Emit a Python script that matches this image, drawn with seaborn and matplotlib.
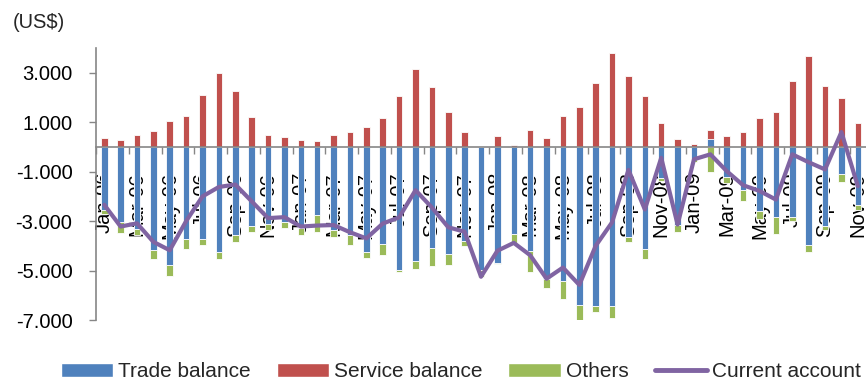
import numpy as np
import pandas as pd
import matplotlib
matplotlib.use("Agg")
import matplotlib.pyplot as plt
from matplotlib.patches import Patch
from matplotlib.lines import Line2D
from matplotlib.ticker import FuncFormatter, FixedLocator
import seaborn as sns

# Monthly balance of payments components (US$ millions), Jan-06 .. Nov-09
month_names = ["Jan", "Feb", "Mar", "Apr", "May", "Jun",
               "Jul", "Aug", "Sep", "Oct", "Nov", "Dec"]
years = ["06", "07", "08", "09"]
months = [f"{m}-{y}" for y in years for m in month_names][:47]

trade = [-2550, -3020, -3300, -4180, -4760, -3730, -3730, -4240,
         -3560, -3180, -3100, -3020, -3290, -2750, -3350, -3560,
         -4270, -3930, -4990, -4630, -4080, -4350, -3800, -4980,
         -4680, -3520, -4220, -5330, -5440, -6390, -6450, -6450,
         -3630, -4140, -1250, -3160, -500, 310, -1200, -1730,
         -2600, -2820, -2850, -3970, -3200, -1090, -2350]

service = [370, 270, 480, 640, 1060, 1250, 2110, 2990,
           2260, 1210, 480, 420, 270, 220, 480, 590,
           790, 1160, 2050, 3140, 2410, 1430, 590, 0,
           440, 70, 680, 370, 1250, 1620, 2570, 3780,
           2860, 2040, 950, 310, 100, 370, 460, 590,
           1160, 1430, 2680, 3670, 2460, 1990, 950]

others = [-150, -480, -270, -370, -480, -410, -240, -300,
          -270, -270, -260, -270, -270, -710, -290, -410,
          -240, -450, -50, -300, -730, -410, -200, -270,
          -50, -380, -840, -380, -730, -780, -240, -450,
          -200, -410, -140, -270, -100, -1000, -250, -450,
          -300, -720, -130, -300, -170, -340, -190]

current = [-2340, -3220, -3090, -3840, -4180, -3000, -2000, -1620,
           -1520, -2200, -2880, -2840, -3220, -3180, -3160, -3450,
           -3700, -3100, -2850, -1750, -2450, -3250, -3430, -5250,
           -4200, -3880, -4380, -5330, -4880, -5580, -4000, -3050,
           -930, -2530, -440, -3140, -500, -300, -980, -1550,
           -1780, -2130, -300, -620, -910, 600, -1590]

series_names = ["Trade balance", "Service balance", "Others", "Current account"]
colors = ["#4F81BD", "#C0504D", "#9BBB59", "#8064A2"]

sns.set_style("white")
plt.rcParams["font.family"] = ["Liberation Sans", "DejaVu Sans"]

df = pd.DataFrame({"month": months, "trade": trade, "service": service,
                   "others": others, "current": current})

# Stack positives upward and negatives downward (trade, service, others order)
comps = df[["trade", "service", "others"]].to_numpy(dtype=float)
pos = np.clip(comps, 0, None).cumsum(axis=1)
neg = np.clip(comps, None, 0).cumsum(axis=1)

fig = plt.figure(figsize=(8.66, 3.82), dpi=100)
ax = fig.add_axes([0.1109, 0.1623, 0.8891, 0.712])

# Draw the outer stack segments first, inner ones on top
for level in (2, 1, 0):
    for stack in (pos, neg):
        layer = pd.DataFrame({"month": months, "value": stack[:, level]})
        sns.barplot(data=layer, x="month", y="value", color=colors[level],
                    saturation=1, errorbar=None, width=0.4,
                    edgecolor="white", linewidth=0.6, ax=ax)

positions = np.arange(len(months))
sns.lineplot(x=positions, y=df["current"].to_numpy(), color=colors[3],
             linewidth=3, sort=False, ax=ax, zorder=3,
             solid_joinstyle="round", solid_capstyle="round")

ax.set_xlim(-0.5, len(months) - 0.5)
ax.set_ylim(-7000, 4000)
ax.set_xlabel("")
ax.set_ylabel("")

# Y axis
ax.yaxis.set_major_locator(FixedLocator(np.arange(-7000, 3001, 2000)))
ax.yaxis.set_major_formatter(
    FuncFormatter(lambda v, p: f"{v:,.0f}".replace(",", ".")))
ax.tick_params(axis="y", which="major", direction="out", length=5,
               width=1, color="#868686", pad=12, labelsize=14.5,
               labelcolor="black", left=True)

# X axis along zero, labels every second month
ax.spines["bottom"].set_position(("data", 0))
ax.set_xticks(positions[::2])
ax.set_xticklabels(months[::2], rotation=90)
ax.set_xticks(np.arange(-0.5, len(months), 2), minor=True)
ax.tick_params(axis="x", which="major", length=0, pad=18, labelsize=14.5,
               labelcolor="black")
ax.tick_params(axis="x", which="minor", direction="out", length=5,
               width=1, color="#868686", bottom=True)

for side in ("top", "right"):
    ax.spines[side].set_visible(False)
for side in ("left", "bottom"):
    ax.spines[side].set_color("#868686")
    ax.spines[side].set_linewidth(1.2)
ax.grid(False)

fig.text(0.015, 1 - 22 / 382, "(US$)", fontsize=14.5, va="center", ha="left")

handles = [Patch(facecolor=colors[0], edgecolor="white"),
           Patch(facecolor=colors[1], edgecolor="white"),
           Patch(facecolor=colors[2], edgecolor="white"),
           Line2D([], [], color=colors[3], linewidth=3.5)]
fig.legend(handles, series_names, loc="center", bbox_to_anchor=(0.532, 0.027),
           ncol=4, frameon=False, fontsize=15, handlelength=2.5,
           handletextpad=0.25, columnspacing=1.25, borderpad=0,
           borderaxespad=0)

fig.savefig("out.png", dpi=100)
